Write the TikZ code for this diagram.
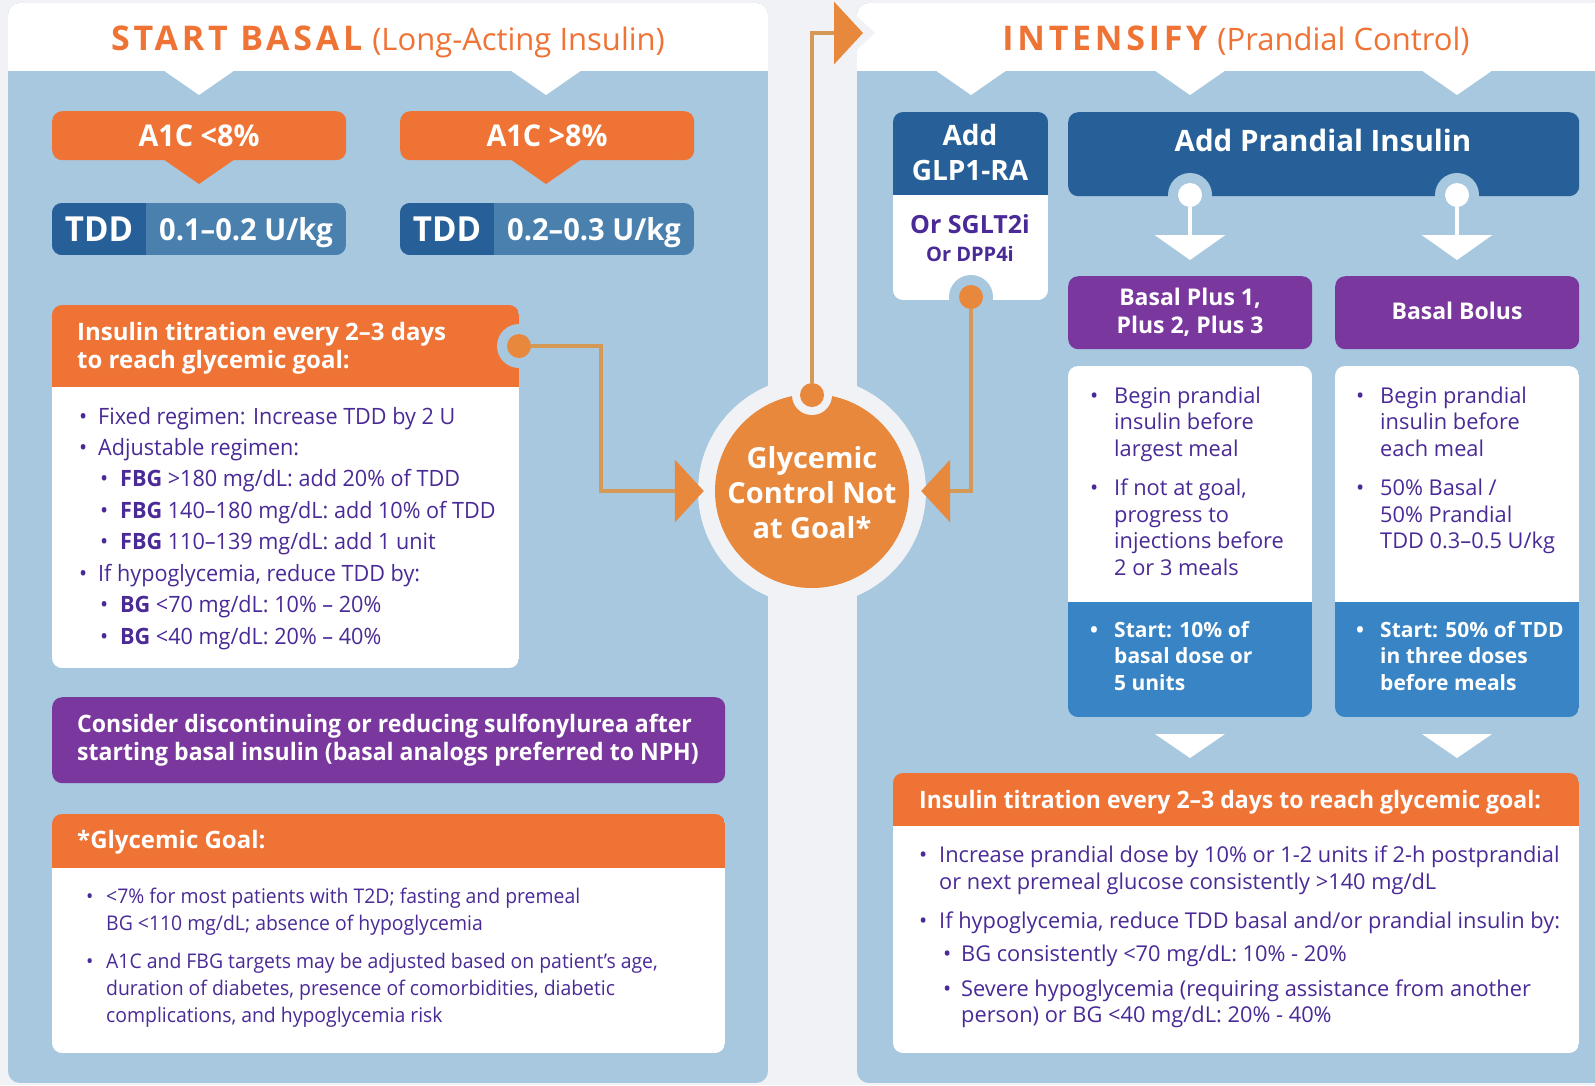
\documentclass[tikz,border=0pt]{standalone}
\usepackage{fontspec}
\setmainfont{Open Sans}
\newfontfamily\cnd[FakeStretch=0.96]{Open Sans}
\newfontfamily\spaced[LetterSpace=11]{Open Sans}
\usetikzlibrary{arrows.meta,calc,fit}

\definecolor{bggray}{HTML}{F1F2F5}
\definecolor{panelblue}{HTML}{A7C8DE}
\definecolor{boxorange}{HTML}{EE7335}
\definecolor{circorange}{HTML}{E8883D}
\definecolor{linetan}{HTML}{D49A55}
\definecolor{darkblue}{HTML}{276098}
\definecolor{midblue}{HTML}{4A80AD}
\definecolor{boxpurple}{HTML}{7A389E}
\definecolor{txtpurple}{HTML}{4A2A96}
\definecolor{startblue}{HTML}{3884C4}

\newcommand\fsz[1]{\fontsize{#1}{#1}\selectfont}

% two-colour rounded box split at a given y: name, x1, y1, x2, y2, split, top, bottom
\newcommand\duobox[8]{%
  \begin{scope}
    \clip[rounded corners=10pt] (#2,#3) rectangle (#4,#5);
    \fill[#7] (#2,#3) rectangle (#4,#6);
    \fill[#8] (#2,#6) rectangle (#4,#5);
  \end{scope}
  \node[fit={(#2,#3)(#4,#5)},inner sep=0pt] (#1) {};
}

\tikzset{
  txt/.style={inner sep=0pt, anchor=base west},
  ctxt/.style={inner sep=0pt, anchor=base},
  rbox/.style={rounded corners=10pt, inner sep=0pt, anchor=north west},
  dot/.style={circle, fill=circorange, minimum size=24, inner sep=0pt},
  wdot/.style={circle, fill=white, minimum size=24, inner sep=0pt},
  notch/.style={circle, minimum size=44, inner sep=0pt},
  conn/.style={draw=linetan, line width=4pt,
    -{Triangle[width=62pt,length=29pt,color=circorange,fill=circorange]}},
  wconn/.style={draw=white, line width=4pt,
    -{Triangle[width=70pt,length=25pt,color=white,fill=white]}},
  lbul/.style={txt, font={\cnd\fsz{22.5}}, text=txtpurple},
  gbul/.style={txt, font={\cnd\fsz{20.2}}, text=txtpurple},
  rbul/.style={txt, font={\fsz{21.8}}, text=txtpurple},
  sbul/.style={txt, font={\bfseries\fsz{21}}, text=white},
}

\begin{document}
\begin{tikzpicture}[x=1pt,y=-1pt]
\useasboundingbox (0,0) rectangle (1595,1085);
\fill[bggray] (0,0) rectangle (1595,1085);

% ---------- left panel ----------
\begin{scope}
  \clip[rounded corners=12pt] (8,3) rectangle (768,1083);
  \fill[panelblue] (8,3) rectangle (768,1083);
  \fill[white] (8,3) rectangle (768,71);
\end{scope}
\fill[white] (163,70) -- (235,70) -- (199,95) -- cycle;
\fill[white] (510,70) -- (582,70) -- (546,95) -- cycle;

% ---------- right panel ----------
\begin{scope}
  \clip[rounded corners=12pt] (857,3) rectangle (1625,1083);
  \fill[panelblue] (857,3) rectangle (1625,1083);
  \fill[white] (857,3) rectangle (1625,71);
\end{scope}
\fill[white] (935,70) -- (1007,70) -- (971,95) -- cycle;
\fill[white] (1154,70) -- (1226,70) -- (1190,95) -- cycle;
\fill[white] (1421,70) -- (1493,70) -- (1457,95) -- cycle;
% cut-out in the right header around the entry arrow
\fill[bggray] (833,-6) -- (875,33) -- (833,72) -- cycle;

% ---------- central hub ----------
\fill[bggray] (812,491) circle[radius=114];
\node[circle, fill=circorange, minimum size=194, inner sep=0pt] (goal) at (812,491) {};

% ---------- left boxes ----------
\node[rbox, fill=boxorange, minimum width=294, minimum height=49] (a1low) at (52,111) {};
\fill[boxorange] (163,159) -- (235,159) -- (199,184) -- cycle;
\node[rbox, fill=boxorange, minimum width=294, minimum height=49] (a1high) at (400,111) {};
\fill[boxorange] (510,159) -- (582,159) -- (546,184) -- cycle;

\begin{scope}
  \clip[rounded corners=10pt] (52,203) rectangle (346,255);
  \fill[midblue] (52,203) rectangle (346,255);
  \fill[darkblue] (52,203) rectangle (146,255);
\end{scope}
\node[fit={(52,203)(346,255)},inner sep=0pt] (tddlow) {};
\begin{scope}
  \clip[rounded corners=10pt] (400,203) rectangle (694,255);
  \fill[midblue] (400,203) rectangle (694,255);
  \fill[darkblue] (400,203) rectangle (494,255);
\end{scope}
\node[fit={(400,203)(694,255)},inner sep=0pt] (tddhigh) {};

\duobox{titr}{52}{305}{519}{668}{387}{boxorange}{white}
\node[rbox, fill=boxpurple, minimum width=673, minimum height=86] (sulf) at (52,697) {};
\duobox{goalbox}{52}{814}{725}{1053}{868}{boxorange}{white}

% ---------- right boxes ----------
\duobox{glp}{893}{112}{1048}{300}{195}{darkblue}{white}
\node[rbox, fill=darkblue, minimum width=511, minimum height=84] (prand) at (1068,112) {};
\node[rbox, fill=boxpurple, minimum width=244, minimum height=73] (bplus) at (1068,276) {};
\node[rbox, fill=boxpurple, minimum width=244, minimum height=73] (bbolus) at (1335,276) {};
\duobox{plusbody}{1068}{366}{1312}{717}{602}{white}{startblue}
\duobox{bolusbody}{1335}{366}{1579}{717}{602}{white}{startblue}
\fill[white] (1155,734) -- (1225,734) -- (1190,758) -- cycle;
\fill[white] (1422,734) -- (1492,734) -- (1457,758) -- cycle;
\duobox{rtitr}{893}{773}{1579}{1053}{826}{boxorange}{white}

% ---------- connector dots ----------
\node[notch, fill=panelblue] (notchL) at (519,346) {};
\node[dot] (dotL) at (519,346) {};
\node[notch, fill=bggray, minimum size=40] (notchT) at (812,395) {};
\node[dot] (dotT) at (812,395) {};
\node[notch, fill=panelblue] (notchG) at (971,297) {};
\node[dot] (dotG) at (971,297) {};
\node[notch, fill=panelblue] (notchP1) at (1190,195) {};
\node[wdot] (dotP1) at (1190,195) {};
\node[notch, fill=panelblue] (notchP2) at (1457,195) {};
\node[wdot] (dotP2) at (1457,195) {};
\coordinate (intTip) at (863,33);
\coordinate (p1Tip) at (1190,260);
\coordinate (p2Tip) at (1457,260);

% ---------- connectors ----------
\draw[conn] (dotL.east) -- ++(70,0) |- ($(goal.west)+(-11,0)$);
\draw[conn] (dotT.north) |- (intTip);
\draw[conn] (dotG.south) |- ($(goal.east)+(12,0)$);
\draw[wconn] (dotP1.south) -- (p1Tip);
\draw[wconn] (dotP2.south) -- (p2Tip);

% ---------- titles ----------
\node[ctxt, text=boxorange] (ltitle) at (388,50)
  {\spaced\bfseries\fsz{34}START BASAL\hspace{10pt}{\normalfont\fsz{31}(Long-Acting Insulin)}};
\node[ctxt, text=boxorange] (rtitle) at (1236,50)
  {\spaced\bfseries\fsz{34}INTENSIFY\hspace{10pt}{\normalfont\fsz{31}(Prandial Control)}};

% ---------- left texts ----------
\node[ctxt, font={\cnd\bfseries\fsz{30}}, text=white] (a1lowt) at (199,146) {A1C <8\%};
\node[ctxt, font={\cnd\bfseries\fsz{30}}, text=white] (a1hight) at (547,146) {A1C >8\%};
\node[ctxt, font={\cnd\bfseries\fsz{34.5}}, text=white] (tdd1a) at (99,241) {TDD};
\node[ctxt, font={\cnd\bfseries\fsz{30.3}}, text=white] (tdd1b) at (246,240) {0.1–0.2 U/kg};
\node[ctxt, font={\cnd\bfseries\fsz{34.5}}, text=white] (tdd2a) at (447,241) {TDD};
\node[ctxt, font={\cnd\bfseries\fsz{30.3}}, text=white] (tdd2b) at (594,240) {0.2–0.3 U/kg};

\node[txt, font={\bfseries\fsz{24}}, text=white] (tt1) at (77,340) {Insulin titration every 2–3 days};
\node[txt, font={\bfseries\fsz{24}}, text=white] (tt2) at (77,368) {to reach glycemic goal:};

\node[lbul] (lb1d) at (79,424) {•};
\node[lbul] (lb1) at (98,424) {Fixed regimen: Increase TDD by 2 U};
\node[lbul] (lb2d) at (79,455) {•};
\node[lbul] (lb2) at (98,455) {Adjustable regimen:};
\node[lbul] (lb3d) at (100,486) {•};
\node[lbul] (lb3) at (120,486) {\textbf{FBG} >180 mg/dL: add 20\% of TDD};
\node[lbul] (lb4d) at (100,518) {•};
\node[lbul] (lb4) at (120,518) {\textbf{FBG} 140–180 mg/dL: add 10\% of TDD};
\node[lbul] (lb5d) at (100,549) {•};
\node[lbul] (lb5) at (120,549) {\textbf{FBG} 110–139 mg/dL: add 1 unit};
\node[lbul] (lb6d) at (79,581) {•};
\node[lbul] (lb6) at (98,581) {If hypoglycemia, reduce TDD by:};
\node[lbul] (lb7d) at (100,612) {•};
\node[lbul] (lb7) at (120,612) {\textbf{BG} <70 mg/dL: 10\% – 20\%};
\node[lbul] (lb8d) at (100,644) {•};
\node[lbul] (lb8) at (120,644) {\textbf{BG} <40 mg/dL: 20\% – 40\%};

\node[txt, font={\cnd\bfseries\fsz{24}}, text=white] (su1) at (77,732) {Consider discontinuing or reducing sulfonylurea after};
\node[txt, font={\cnd\bfseries\fsz{24}}, text=white] (su2) at (77,760) {starting basal insulin (basal analogs preferred to NPH)};

\node[txt, font={\bfseries\fsz{24}}, text=white] (gg) at (77,848) {*Glycemic Goal:};
\node[gbul] (gb1d) at (86,903) {•};
\node[gbul] (gb1) at (106,903) {<7\% for most patients with T2D; fasting and premeal};
\node[gbul] (gb2) at (106,930) {BG <110 mg/dL; absence of hypoglycemia};
\node[gbul] (gb3d) at (86,968) {•};
\node[gbul] (gb3) at (106,968) {A1C and FBG targets may be adjusted based on patient’s age,};
\node[gbul] (gb4) at (106,995) {duration of diabetes, presence of comorbidities, diabetic};
\node[gbul] (gb5) at (106,1022) {complications, and hypoglycemia risk};

% ---------- hub text ----------
\node[ctxt, font={\bfseries\fsz{29}}, text=white] (g1) at (812,468) {Glycemic};
\node[ctxt, font={\bfseries\fsz{29}}, text=white] (g2) at (812,503) {Control Not};
\node[ctxt, font={\bfseries\fsz{29}}, text=white] (g3) at (812,538) {at Goal*};

% ---------- right texts ----------
\node[ctxt, font={\bfseries\fsz{28}}, text=white] (glp1) at (970,145) {Add};
\node[ctxt, font={\bfseries\fsz{28}}, text=white] (glp2) at (970,180) {GLP1-RA};
\node[ctxt, font={\bfseries\fsz{25}}, text=txtpurple] (glp3) at (970,233) {Or SGLT2i};
\node[ctxt, font={\bfseries\fsz{20}}, text=txtpurple] (glp4) at (970,261) {Or DPP4i};

\node[ctxt, font={\bfseries\fsz{29.5}}, text=white] (prt) at (1323,151) {Add Prandial Insulin};
\node[ctxt, font={\bfseries\fsz{23}}, text=white] (bp1) at (1190,305) {Basal Plus 1,};
\node[ctxt, font={\bfseries\fsz{23}}, text=white] (bp2) at (1190,333) {Plus 2, Plus 3};
\node[ctxt, font={\bfseries\fsz{23}}, text=white] (bb1) at (1457,319) {Basal Bolus};

\node[rbul] (c1d) at (1090,403) {•};
\node[rbul] (c1a) at (1114,403) {Begin prandial};
\node[rbul] (c1b) at (1114,429) {insulin before};
\node[rbul] (c1c) at (1114,456) {largest meal};
\node[rbul] (c2d) at (1090,495) {•};
\node[rbul] (c2a) at (1114,495) {If not at goal,};
\node[rbul] (c2b) at (1114,522) {progress to};
\node[rbul] (c2c) at (1114,548) {injections before};
\node[rbul] (c2e) at (1114,575) {2 or 3 meals};
\node[sbul] (s1d) at (1090,637) {•};
\node[sbul] (s1a) at (1114,637) {Start: 10\% of};
\node[sbul] (s1b) at (1114,663) {basal dose or};
\node[sbul] (s1c) at (1114,690) {5 units};

\node[rbul] (d1d) at (1356,403) {•};
\node[rbul] (d1a) at (1380,403) {Begin prandial};
\node[rbul] (d1b) at (1380,429) {insulin before};
\node[rbul] (d1c) at (1380,456) {each meal};
\node[rbul] (d2d) at (1356,495) {•};
\node[rbul] (d2a) at (1380,495) {50\% Basal /};
\node[rbul] (d2b) at (1380,522) {50\% Prandial};
\node[rbul] (d2c) at (1380,548) {TDD 0.3–0.5 U/kg};
\node[sbul] (s2d) at (1356,637) {•};
\node[sbul] (s2a) at (1380,637) {Start: 50\% of TDD};
\node[sbul] (s2b) at (1380,663) {in three doses};
\node[sbul] (s2c) at (1380,690) {before meals};

\node[txt, font={\cnd\bfseries\fsz{24}}, text=white] (rt) at (919,808) {Insulin titration every 2–3 days to reach glycemic goal:};
\node[rbul] (r1d) at (919,862) {•};
\node[rbul] (r1a) at (939,862) {Increase prandial dose by 10\% or 1-2 units if 2-h postprandial};
\node[rbul] (r1b) at (939,889) {or next premeal glucose consistently >140 mg/dL};
\node[rbul] (r2d) at (919,928) {•};
\node[rbul] (r2a) at (939,928) {If hypoglycemia, reduce TDD basal and/or prandial insulin by:};
\node[rbul] (r3d) at (943,961) {•};
\node[rbul] (r3a) at (961,961) {BG consistently <70 mg/dL: 10\% - 20\%};
\node[rbul] (r4d) at (943,996) {•};
\node[rbul] (r4a) at (961,996) {Severe hypoglycemia (requiring assistance from another};
\node[rbul] (r4b) at (961,1022) {person) or BG <40 mg/dL: 20\% - 40\%};
\end{tikzpicture}
\end{document}
